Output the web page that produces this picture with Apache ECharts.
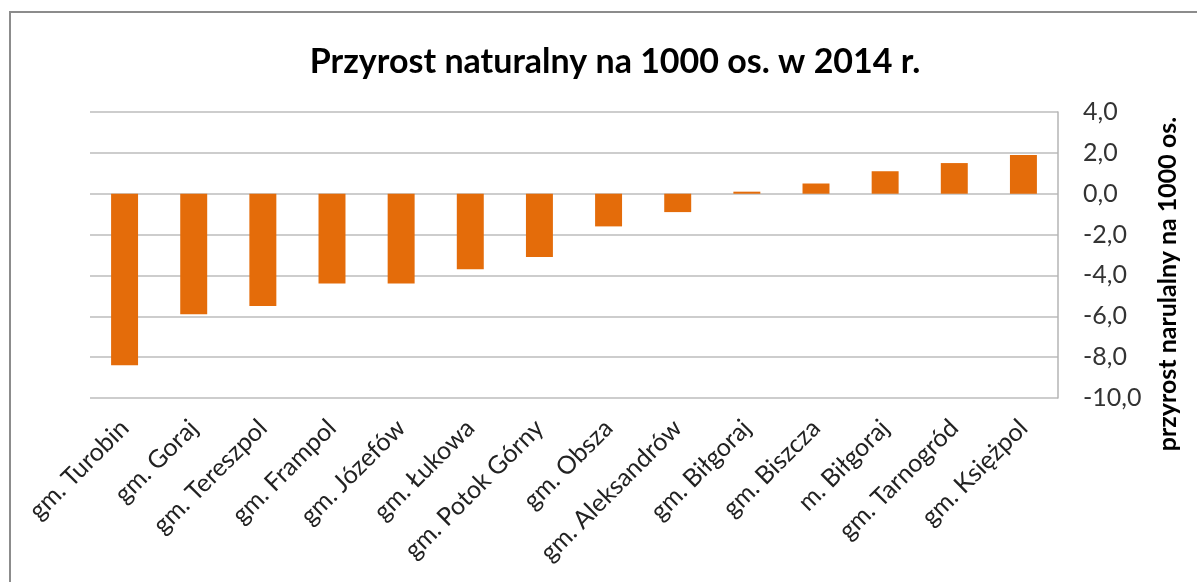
<!DOCTYPE html>
<html>
<head>
<meta charset="utf-8">
<script src="https://cdn.jsdelivr.net/npm/echarts@6/dist/echarts.min.js"></script>
<style>
  html, body { margin: 0; padding: 0; background: #fff; }
  #frame { position: absolute; left: 9px; top: 11px; width: 1188px; height: 571px;
           border-left: 2px solid #8c8c8c; border-top: 2px solid #8c8c8c; box-sizing: border-box; }
  #chart { position: absolute; left: 0; top: 0; width: 1197px; height: 582px; }
</style>
</head>
<body>
<div id="frame"></div>
<div id="chart"></div>
<script>
const titleText = 'Przyrost naturalny na 1000 os. w 2014 r.';
const axisTitle = 'przyrost narulalny na 1000 os.';
const categories = ['gm. Turobin', 'gm. Goraj', 'gm. Tereszpol', 'gm. Frampol', 'gm. Józefów',
  'gm. Łukowa', 'gm. Potok Górny', 'gm. Obsza', 'gm. Aleksandrów', 'gm. Biłgoraj',
  'gm. Biszcza', 'm. Biłgoraj', 'gm. Tarnogród', 'gm. Księżpol'];
const values = [-8.4, -5.9, -5.5, -4.4, -4.4, -3.7, -3.1, -1.6, -0.9, 0.1, 0.5, 1.1, 1.5, 1.9];
const yMin = -10, yMax = 4, yStep = 2;

const chart = echarts.init(document.getElementById('chart'));
chart.setOption({
  animation: false,
  textStyle: { fontFamily: 'Lato' },
  title: {
    text: titleText, left: 610, textAlign: 'center', top: 40,
    textStyle: { fontFamily: 'Lato', fontWeight: 'bold', fontSize: 34, color: '#000' }
  },
  grid: { left: 90, right: 139, top: 112, bottom: 184 },
  xAxis: {
    type: 'category', data: categories,
    axisLine: { show: false }, axisTick: { show: false },
    axisLabel: { interval: 0, rotate: 45, margin: 26, fontSize: 25, color: '#222', fontFamily: 'Lato' }
  },
  yAxis: {
    type: 'value', position: 'right', min: yMin, max: yMax, interval: yStep,
    axisLine: { show: true, lineStyle: { color: '#b5b5b5', width: 1.5 } },
    axisTick: { show: false },
    splitLine: { lineStyle: { color: '#bdbdbd', width: 1.5 } },
    axisLabel: { margin: 25, fontSize: 25, color: '#333', fontFamily: 'Lato',
      formatter: v => v.toFixed(1).replace('.', ',') }
  },
  series: [{
    type: 'bar', data: values, barWidth: '39%',
    itemStyle: { color: '#e46c0a' }
  }],
  graphic: [{
    type: 'text', x: 1168, y: 284, rotation: Math.PI / 2,
    style: { text: axisTitle, fontFamily: 'Lato', fontWeight: 'bold', fontSize: 25, fill: '#000',
      align: 'center', verticalAlign: 'middle' }
  }]
});
</script>
</body>
</html>
